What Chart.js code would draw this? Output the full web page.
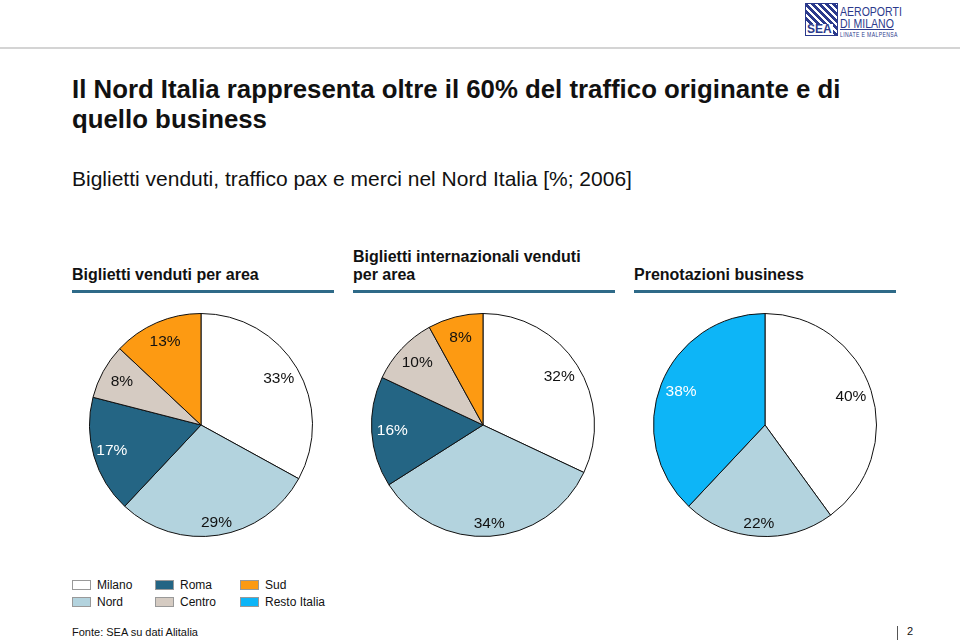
<!DOCTYPE html>
<html>
<head>
<meta charset="utf-8">
<script src="https://cdn.jsdelivr.net/npm/chart.js@4"></script>
<style>
  body { margin: 0; width: 960px; height: 642px; background: #fff; position: relative; overflow: hidden;
         font-family: "Liberation Sans", Arial, sans-serif; color: #111; }
  .abs { position: absolute; white-space: nowrap; }
  #topline { left: 0; top: 47px; width: 960px; height: 2px; background: #d4d4d4; }
  #logo { left: 805px; top: 3px; width: 96px; height: 33px; }
  #logo .box { position: absolute; left: 0; top: 0; width: 31px; height: 31px; border: 1px solid #2b3a8c;
               background: repeating-linear-gradient(45deg, #2b3a8c 0 3px, #fff 3px 5px); }
  #logo .sea { position: absolute; left: 1px; bottom: 1px; font: bold 12px "Liberation Sans"; color: #2b3a8c;
               background: #fff; padding: 0 1px; line-height: 11px; }
  #logo .txt { position: absolute; left: 35px; top: 0; transform: scaleX(0.78); transform-origin: 0 0; color: #2b3a8c; }
  #logo .t1, #logo .t2 { font: 13.5px "Liberation Sans"; line-height: 12px; white-space: nowrap; }
  #logo .t1 { margin-top: 3px; }
  #logo .t2 { text-decoration: underline; }
  #logo .t3 { font: 6.5px "Liberation Sans"; letter-spacing: 0.5px; white-space: nowrap; margin-top: 1px; }
  #title { left: 72px; top: 73.5px; font-weight: bold; font-size: 25.8px; line-height: 30px; }
  #subtitle { left: 72px; top: 166.5px; font-size: 21px; }
  .head { font-weight: bold; font-size: 16px; line-height: 18px; width: 262px; height: 46px;
          display: flex; align-items: flex-end; top: 238px; border-bottom: 3px solid #2e6a88; padding-bottom: 6px; }
  canvas { position: absolute; }
  .leg { font-size: 12px; display: flex; align-items: center; }
  .sw { width: 17px; height: 8px; border: 1px solid #999; margin-right: 6px; }
  #source { left: 72px; top: 626px; font-size: 11px; }
  #pbar { left: 897px; top: 626px; width: 1px; height: 14px; background: #555; }
  #page { left: 907px; top: 625px; font-size: 11px; }
</style>
</head>
<body>
<div id="topline" class="abs"></div>
<div id="logo" class="abs">
  <div class="box"></div><div class="sea">SEA</div>
  <div class="txt"><div class="t1">AEROPORTI</div><div class="t2">DI MILANO</div><div class="t3">LINATE E MALPENSA</div></div>
</div>
<div id="title" class="abs">Il Nord Italia rappresenta oltre il 60% del traffico originante e di<br>quello business</div>
<div id="subtitle" class="abs">Biglietti venduti, traffico pax e merci nel Nord Italia [%; 2006]</div>
<div class="abs head" style="left:72px">Biglietti venduti per area</div>
<div class="abs head" style="left:353px">Biglietti internazionali venduti<br>per area</div>
<div class="abs head" style="left:634px">Prenotazioni business</div>
<canvas id="pie1" width="224" height="224" style="left:89px;top:313px"></canvas>
<canvas id="pie2" width="224" height="224" style="left:371px;top:313px"></canvas>
<canvas id="pie3" width="224" height="224" style="left:653px;top:313px"></canvas>
<div id="legend"></div>
<div id="source" class="abs">Fonte: SEA su dati Alitalia</div>
<div id="pbar" class="abs"></div>
<div id="page" class="abs">2</div>
<script>
// Dati
const areeItalia = ["Milano", "Nord", "Roma", "Centro", "Sud"];
const bigliettiVenduti = [33, 29, 17, 8, 13];
const bigliettiInternazionali = [32, 34, 16, 10, 8];
const areeBusiness = ["Milano", "Nord", "Resto Italia"];
const prenotazioniBusiness = [40, 22, 38];

const legendOrder = ["Milano", "Roma", "Sud", "Nord", "Centro", "Resto Italia"];

const colori = {
  "Milano": "#ffffff",
  "Nord": "#b3d3de",
  "Roma": "#246584",
  "Centro": "#d5cbc2",
  "Sud": "#fd9a12",
  "Resto Italia": "#0db5f7",
};
const labelChiare = ["Roma", "Resto Italia"];

// etichette percentuali dentro le fette
const pctLabels = {
  id: "pctLabels",
  afterDatasetsDraw(chart) {
    const ctx = chart.ctx;
    const meta = chart.getDatasetMeta(0);
    const labels = chart.data.labels;
    const values = chart.data.datasets[0].data;
    ctx.save();
    ctx.font = "15.5px 'Liberation Sans', Arial, sans-serif";
    ctx.textAlign = "center";
    ctx.textBaseline = "middle";
    meta.data.forEach((arc, i) => {
      const p = arc.getProps(["x", "y", "startAngle", "endAngle", "outerRadius"], true);
      const mid = (p.startAngle + p.endAngle) / 2;
      const down = Math.max(0, Math.sin(mid));
      const r = p.outerRadius * (0.81 + 0.08 * down);
      ctx.fillStyle = labelChiare.includes(labels[i]) ? "#ffffff" : "#111111";
      ctx.fillText(values[i] + "%", p.x + Math.cos(mid) * r, p.y + Math.sin(mid) * r);
    });
    ctx.restore();
  },
};

function pie(id, labels, values) {
  new Chart(document.getElementById(id), {
    type: "pie",
    data: {
      labels: labels,
      datasets: [
        {
          data: values,
          backgroundColor: labels.map((l) => colori[l]),
          borderColor: "#111",
          borderWidth: 1,
        },
      ],
    },
    options: {
      responsive: false,
      animation: false,
      layout: { padding: 0 },
      plugins: {
        legend: { display: false },
        tooltip: { enabled: false },
      },
    },
    plugins: [pctLabels],
  });
}

pie("pie1", areeItalia, bigliettiVenduti);
pie("pie2", areeItalia, bigliettiInternazionali);
pie("pie3", areeBusiness, prenotazioniBusiness);

// legenda
const colX = [72, 155, 240];
const rowY = [578, 595];
const legend = document.getElementById("legend");
legendOrder.forEach((name, i) => {
  const d = document.createElement("div");
  d.className = "abs leg";
  d.style.left = colX[i % 3] + "px";
  d.style.top = rowY[Math.floor(i / 3)] + "px";
  d.innerHTML = '<span class="sw" style="background:' + colori[name] + '"></span>' + name;
  legend.appendChild(d);
});
</script>
</body>
</html>
